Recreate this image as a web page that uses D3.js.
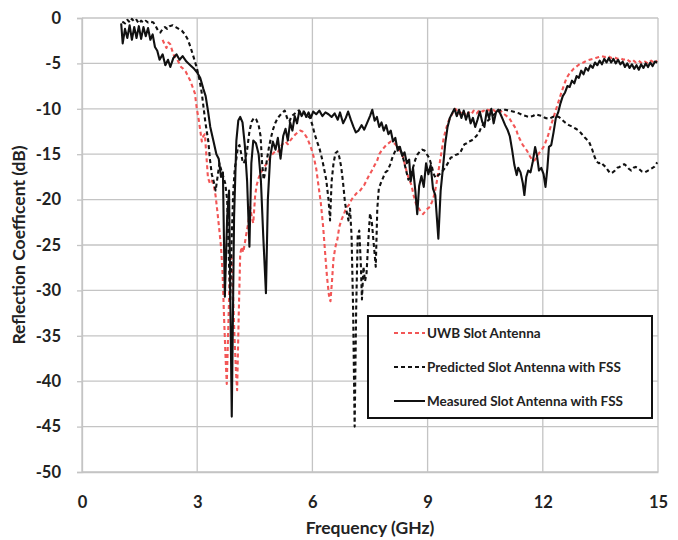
<!DOCTYPE html>
<html>
<head>
<meta charset="utf-8">
<script src="https://cdn.jsdelivr.net/npm/d3@7"></script>
<style>
  html, body { margin: 0; padding: 0; background: #fff; }
  svg text { font-family: Lato, "Open Sans", "Liberation Sans", sans-serif; font-weight: bold; fill: #222; }
</style>
</head>
<body>
<svg id="chart" width="678" height="540"></svg>
<script>
// Axis ticks
const xTicks = [0, 3, 6, 9, 12, 15];
const yTicks = [0, -5, -10, -15, -20, -25, -30, -35, -40, -45, -50];

// Series names
const seriesNames = ["UWB Slot Antenna", "Predicted Slot Antenna with FSS", "Measured Slot Antenna with FSS"];

// [frequency GHz, S11 dB]
const uwbSlot = [
  [2.10,-2.4],[2.15,-2.9],[2.20,-3.3],[2.25,-2.7],[2.30,-2.9],[2.35,-3.6],[2.40,-4.2],[2.46,-4.4],[2.52,-4.9],[2.58,-5.4],
  [2.64,-5.6],[2.70,-5.9],[2.76,-6.4],[2.82,-6.9],[2.88,-7.6],[2.94,-8.3],[2.99,-10.0],[3.04,-11.2],[3.08,-12.4],[3.12,-13.6],
  [3.16,-13.0],[3.20,-12.8],[3.24,-15.2],[3.28,-17.6],[3.33,-18.2],[3.38,-17.9],[3.43,-18.4],[3.48,-19.6],[3.53,-21.5],[3.58,-23.5],
  [3.62,-25.2],[3.66,-28],[3.70,-33],[3.74,-37.5],[3.77,-40.3],[3.81,-34],[3.85,-28],[3.89,-26],[3.93,-30],[3.97,-35],
  [4.01,-39],[4.04,-41],[4.08,-33],[4.12,-26],[4.16,-25.2],[4.20,-25.8],[4.24,-24.8],[4.29,-23.5],[4.33,-22.6],[4.38,-20.8],
  [4.42,-21.9],[4.46,-22.6],[4.51,-19.5],[4.55,-18.4],[4.60,-17.6],[4.66,-17.0],[4.72,-16.6],[4.78,-16.2],[4.85,-15.8],[4.92,-15.2],
  [4.98,-14.9],[5.05,-14.6],[5.11,-14.7],[5.17,-14.2],[5.24,-13.8],[5.30,-13.6],[5.36,-13.9],[5.42,-13.5],[5.50,-13.1],[5.56,-12.8],
  [5.62,-12.6],[5.68,-12.4],[5.74,-12.5],[5.80,-12.8],[5.86,-13.2],[5.92,-13.8],[5.98,-14.5],[6.04,-15.4],[6.10,-16.6],[6.16,-18.5],
  [6.22,-20.4],[6.28,-23],[6.33,-25.8],[6.38,-28.5],[6.43,-30.5],[6.47,-31.2],[6.51,-29],[6.55,-26.5],[6.60,-25.2],[6.65,-24.4],
  [6.70,-23.0],[6.76,-22.2],[6.82,-21.6],[6.88,-20.9],[6.95,-20.6],[7.02,-20.0],[7.09,-19.6],[7.15,-19.3],[7.21,-19.2],[7.28,-18.8],
  [7.35,-18.4],[7.42,-17.8],[7.48,-17.3],[7.55,-16.8],[7.62,-16.2],[7.68,-15.8],[7.74,-15.0],[7.80,-14.6],[7.86,-14.3],[7.92,-14.0],
  [7.98,-13.8],[8.04,-13.6],[8.10,-13.7],[8.16,-13.9],[8.22,-14.2],[8.28,-14.6],[8.34,-15.0],[8.40,-16.0],[8.46,-17.0],[8.52,-17.8],
  [8.58,-18.4],[8.64,-19.6],[8.70,-20.5],[8.76,-20.9],[8.82,-21.3],[8.88,-21.6],[8.94,-21.3],[9.00,-21.0],[9.06,-20.8],[9.12,-20.2],
  [9.18,-19.4],[9.24,-18.0],[9.30,-16.4],[9.36,-14.8],[9.42,-13.2],[9.48,-12.2],[9.54,-11.4],[9.60,-10.9],[9.66,-10.4],[9.72,-10.0],
  [9.78,-10.3],[9.84,-10.6],[9.90,-10.2],[9.96,-10.5],[10.02,-10.8],[10.08,-10.4],[10.14,-10.6],[10.20,-10.2],[10.28,-10.5],[10.36,-10.1],
  [10.44,-10.3],[10.52,-10.0],[10.60,-10.2],[10.68,-10.0],[10.76,-10.3],[10.84,-10.1],[10.92,-10.3],[11.00,-10.6],[11.06,-10.8],[11.12,-11.0],
  [11.18,-11.4],[11.24,-11.8],[11.30,-12.2],[11.36,-13.0],[11.42,-13.5],[11.48,-14.0],[11.54,-14.3],[11.60,-14.7],[11.66,-15.2],[11.72,-15.6],
  [11.78,-15.7],[11.84,-15.4],[11.90,-14.9],[11.96,-14.6],[12.02,-14.2],[12.08,-13.6],[12.14,-12.9],[12.20,-12.0],[12.26,-11.2],[12.32,-10.4],
  [12.38,-9.6],[12.44,-8.8],[12.50,-8.0],[12.56,-7.3],[12.62,-6.6],[12.68,-6.2],[12.74,-5.9],[12.80,-5.6],[12.86,-5.4],[12.92,-5.2],
  [12.98,-5.0],[13.06,-4.9],[13.14,-4.7],[13.22,-4.6],[13.30,-4.5],[13.38,-4.4],[13.46,-4.3],[13.54,-4.2],[13.62,-4.3],[13.70,-4.2],
  [13.78,-4.4],[13.86,-4.3],[13.94,-4.5],[14.02,-4.4],[14.10,-4.6],[14.18,-4.5],[14.26,-4.8],[14.34,-4.6],[14.42,-4.9],[14.50,-4.7],
  [14.58,-5.0],[14.66,-4.8],[14.74,-5.0],[14.82,-4.7],[14.90,-4.9],[14.98,-4.7]
];

const predictedFss = [
  [1.05,-0.4],[1.12,-0.6],[1.18,-0.2],[1.25,-0.5],[1.30,-0.1],[1.36,-0.4],[1.42,-0.2],[1.48,-0.6],[1.54,-0.3],[1.60,-0.5],
  [1.66,-0.3],[1.72,-0.5],[1.78,-0.4],[1.86,-0.5],[1.92,-0.9],[1.98,-1.4],[2.04,-1.6],[2.10,-1.2],[2.16,-1.0],[2.22,-1.2],
  [2.28,-0.9],[2.36,-0.8],[2.44,-1.0],[2.52,-1.2],[2.60,-1.4],[2.68,-1.8],[2.76,-2.4],[2.84,-3.4],[2.92,-4.5],[2.99,-5.5],
  [3.06,-6.8],[3.12,-8.3],[3.17,-10],[3.21,-11.4],[3.25,-12.5],[3.29,-13.6],[3.33,-15.5],[3.38,-17.2],[3.43,-18.0],[3.48,-19.0],
  [3.53,-17.5],[3.58,-16.0],[3.63,-16.8],[3.68,-17.5],[3.73,-18.2],[3.78,-20],[3.82,-26],[3.86,-31],[3.90,-24],[3.94,-19],
  [3.98,-16.5],[4.02,-15.5],[4.06,-14.2],[4.10,-14.0],[4.14,-14.8],[4.19,-16.0],[4.24,-15.8],[4.30,-14.5],[4.36,-12.5],[4.42,-11.4],
  [4.48,-11.0],[4.54,-11.2],[4.60,-11.8],[4.65,-13.0],[4.69,-16.0],[4.73,-17.8],[4.77,-17.0],[4.82,-15.5],[4.87,-14.2],[4.92,-13.2],
  [4.98,-12.2],[5.04,-11.5],[5.10,-11.0],[5.16,-10.7],[5.22,-10.4],[5.28,-10.2],[5.34,-11.0],[5.40,-11.4],[5.46,-10.8],[5.52,-10.6],
  [5.58,-10.4],[5.64,-10.2],[5.70,-10.5],[5.76,-10.3],[5.82,-10.6],[5.88,-10.8],[5.94,-11.0],[6.00,-11.8],[6.06,-12.8],[6.12,-13.6],
  [6.18,-14.3],[6.24,-15.3],[6.30,-16.5],[6.36,-17.8],[6.42,-20],[6.46,-22.3],[6.50,-18],[6.55,-16.0],[6.60,-14.9],[6.65,-14.7],
  [6.70,-15.3],[6.75,-16.4],[6.80,-18.2],[6.85,-20.4],[6.90,-21.5],[6.94,-22.3],[6.98,-21.0],[7.02,-24],[7.06,-32],[7.10,-45],
  [7.14,-32],[7.18,-24],[7.22,-23.4],[7.26,-27],[7.29,-31],[7.33,-27.4],[7.37,-29],[7.41,-28.1],[7.45,-25],[7.50,-21.5],
  [7.55,-22.6],[7.60,-25],[7.65,-27.4],[7.69,-21],[7.73,-18.8],[7.78,-18.2],[7.84,-17.6],[7.90,-17.0],[7.96,-16.8],[8.02,-16.2],
  [8.08,-15.4],[8.14,-14.8],[8.20,-14.3],[8.26,-14.2],[8.32,-14.8],[8.38,-15.7],[8.44,-16.8],[8.50,-17.8],[8.56,-17.5],[8.62,-16.5],
  [8.68,-15.6],[8.74,-15.0],[8.80,-14.7],[8.86,-14.5],[8.92,-14.6],[8.98,-15.0],[9.04,-15.4],[9.10,-16.2],[9.16,-17.2],[9.21,-17.6],
  [9.28,-17.3],[9.34,-17.1],[9.40,-16.8],[9.47,-16.4],[9.54,-15.9],[9.60,-15.4],[9.66,-15.3],[9.72,-15.1],[9.78,-15.0],[9.84,-14.9],
  [9.90,-14.4],[9.96,-13.9],[10.02,-13.8],[10.08,-13.6],[10.14,-13.5],[10.20,-13.3],[10.27,-13.0],[10.34,-12.6],[10.40,-12.0],[10.47,-11.6],
  [10.54,-11.4],[10.60,-11.2],[10.68,-10.8],[10.77,-10.5],[10.86,-10.2],[10.94,-10.1],[11.02,-10.1],[11.12,-10.2],[11.22,-10.3],[11.30,-10.4],
  [11.38,-10.5],[11.48,-10.7],[11.56,-10.8],[11.64,-10.9],[11.74,-10.8],[11.82,-10.6],[11.90,-10.7],[11.98,-10.8],[12.06,-11.0],[12.16,-11.1],
  [12.26,-10.9],[12.34,-10.8],[12.42,-10.9],[12.50,-11.2],[12.58,-11.5],[12.68,-11.8],[12.78,-12.0],[12.86,-12.2],[12.94,-12.4],[13.02,-12.8],
  [13.10,-13.2],[13.20,-13.6],[13.28,-14.4],[13.34,-15.2],[13.40,-15.8],[13.46,-16.0],[13.52,-15.9],[13.58,-16.2],[13.64,-16.4],[13.70,-16.8],
  [13.76,-17.1],[13.82,-17.0],[13.88,-16.8],[13.94,-16.5],[14.00,-16.4],[14.06,-16.2],[14.12,-16.1],[14.18,-16.3],[14.24,-16.6],[14.30,-16.8],
  [14.36,-16.5],[14.42,-16.4],[14.50,-16.6],[14.58,-16.9],[14.66,-17.0],[14.74,-16.8],[14.82,-16.6],[14.90,-16.4],[14.98,-15.9]
];

const measuredFss = [
  [1.02,-0.6],[1.06,-2.8],[1.12,-1.2],[1.18,-2.2],[1.24,-0.8],[1.30,-2.4],[1.36,-1.0],[1.42,-2.2],[1.48,-0.9],[1.54,-2.3],
  [1.60,-1.0],[1.66,-2.0],[1.72,-1.1],[1.78,-2.4],[1.84,-1.8],[1.90,-3.2],[1.96,-3.6],[2.02,-4.6],[2.10,-4.0],[2.17,-5.2],
  [2.24,-4.6],[2.30,-5.4],[2.38,-4.4],[2.46,-4.0],[2.54,-4.6],[2.62,-4.2],[2.72,-4.8],[2.82,-5.2],[2.92,-5.6],[3.00,-6.0],
  [3.08,-6.6],[3.16,-7.8],[3.22,-8.6],[3.28,-10.2],[3.34,-12.0],[3.42,-13.5],[3.50,-15.0],[3.56,-15.5],[3.62,-17.5],[3.67,-17.0],
  [3.72,-30.7],[3.78,-22],[3.83,-19],[3.90,-43.9],[3.96,-22],[4.02,-13.5],[4.07,-11.3],[4.12,-10.9],[4.18,-11.5],[4.24,-14],
  [4.30,-18],[4.36,-25.2],[4.41,-16],[4.46,-13.5],[4.53,-13.8],[4.60,-15],[4.66,-18],[4.72,-24],[4.79,-30.3],[4.84,-20],
  [4.90,-15.3],[4.97,-13.6],[5.04,-14.5],[5.10,-13.2],[5.17,-15.5],[5.24,-13.0],[5.30,-12.2],[5.36,-13.5],[5.42,-11.5],[5.48,-12.4],
  [5.54,-10.8],[5.60,-11.6],[5.66,-10.2],[5.72,-10.8],[5.78,-10.3],[5.84,-10.9],[5.90,-10.4],[5.96,-11.0],[6.02,-10.3],[6.10,-10.6],
  [6.18,-10.2],[6.26,-10.8],[6.34,-10.4],[6.42,-10.6],[6.50,-10.9],[6.58,-10.5],[6.66,-11.2],[6.72,-10.4],[6.80,-11.6],[6.87,-11.0],
  [6.93,-10.3],[7.00,-11.2],[7.07,-12.0],[7.13,-12.6],[7.20,-12.4],[7.28,-11.8],[7.35,-12.3],[7.42,-11.6],[7.50,-10.8],[7.56,-10.1],
  [7.62,-11.3],[7.68,-10.9],[7.74,-12.0],[7.80,-11.5],[7.86,-12.4],[7.92,-11.8],[7.98,-12.8],[8.04,-12.4],[8.10,-13.6],[8.16,-13.2],
  [8.22,-14.6],[8.28,-14.2],[8.34,-15.2],[8.40,-14.8],[8.46,-16.0],[8.52,-15.6],[8.56,-18.0],[8.62,-16.5],[8.68,-19],[8.73,-21.6],
  [8.78,-18.5],[8.84,-17.4],[8.90,-18.6],[8.96,-16.0],[9.02,-17.2],[9.08,-16.2],[9.14,-18.8],[9.20,-19.5],[9.28,-24.3],[9.34,-19],
  [9.40,-16.5],[9.46,-13.8],[9.52,-12.0],[9.58,-11.0],[9.64,-10.5],[9.70,-10.0],[9.76,-10.8],[9.82,-10.1],[9.88,-11.0],[9.94,-10.2],
  [10.00,-11.2],[10.06,-10.4],[10.12,-11.6],[10.18,-11.0],[10.24,-12.0],[10.30,-11.2],[10.36,-10.3],[10.42,-11.4],[10.48,-12.0],[10.54,-10.2],
  [10.60,-11.0],[10.66,-10.0],[10.72,-11.6],[10.78,-10.4],[10.84,-10.1],[10.90,-10.6],[10.96,-11.2],[11.02,-11.8],[11.08,-12.3],[11.14,-13.0],
  [11.20,-14.5],[11.26,-16.2],[11.32,-17.3],[11.36,-16.5],[11.42,-17.0],[11.48,-18.2],[11.52,-19.5],[11.57,-17.5],[11.62,-16.8],[11.68,-17.0],
  [11.74,-15.8],[11.80,-14.2],[11.85,-15.2],[11.90,-16.8],[11.96,-16.5],[12.02,-17.2],[12.07,-18.6],[12.12,-16.5],[12.16,-14.2],[12.22,-14.0],
  [12.28,-12.6],[12.34,-11.0],[12.40,-10.4],[12.46,-9.4],[12.52,-8.6],[12.58,-8.2],[12.64,-7.5],[12.70,-7.6],[12.76,-6.9],[12.82,-7.2],
  [12.88,-6.4],[12.94,-6.6],[13.00,-5.8],[13.06,-6.2],[13.12,-5.5],[13.18,-5.8],[13.24,-5.2],[13.30,-5.5],[13.36,-4.9],[13.42,-5.2],
  [13.48,-4.7],[13.54,-5.1],[13.60,-4.5],[13.66,-4.9],[13.72,-4.4],[13.78,-4.9],[13.84,-4.5],[13.90,-5.0],[13.96,-4.6],[14.02,-5.1],
  [14.08,-4.8],[14.14,-5.4],[14.20,-5.0],[14.26,-5.5],[14.32,-5.1],[14.38,-5.6],[14.44,-5.2],[14.50,-5.7],[14.56,-5.1],[14.62,-5.5],
  [14.68,-5.0],[14.74,-5.4],[14.80,-4.9],[14.86,-5.3],[14.92,-4.8],[14.98,-4.9]
];

const svg = d3.select("#chart");
const margin = { left: 82, right: 20, top: 18, bottom: 68 };
const W = 678, H = 540;

const x = d3.scaleLinear().domain([0, 15]).range([margin.left, W - margin.right]);
const y = d3.scaleLinear().domain([-50, 0]).range([H - margin.bottom, margin.top]);

// plain hyphen for negative tick labels
const fmt = d => String(d);

// grid
const grid = svg.append("g");
grid.selectAll("line.h").data(yTicks).join("line")
  .attr("x1", x(0)).attr("x2", x(15))
  .attr("y1", d => y(d)).attr("y2", d => y(d))
  .attr("stroke", "#c4c4c4").attr("stroke-width", 1.3);
grid.selectAll("line.v").data(xTicks).join("line")
  .attr("y1", y(0)).attr("y2", y(-50))
  .attr("x1", d => x(d)).attr("x2", d => x(d))
  .attr("stroke", "#c4c4c4").attr("stroke-width", 1.3);

// y axis
const yAxis = svg.append("g")
  .attr("transform", `translate(${x(0)},0)`)
  .call(d3.axisLeft(y).tickValues(yTicks).tickSize(5).tickPadding(16).tickFormat(fmt));
yAxis.select(".domain").attr("stroke", "#c4c4c4").attr("stroke-width", 1.3);
yAxis.selectAll(".tick line").attr("stroke", "#c4c4c4").attr("stroke-width", 1.3);
yAxis.selectAll("text").attr("font-size", 16.5).attr("fill", "#222")
  .style("font-family", "Lato, 'Open Sans', sans-serif").style("font-weight", "bold");

// x axis
const xAxis = svg.append("g")
  .attr("transform", `translate(0,${y(-50)})`)
  .call(d3.axisBottom(x).tickValues(xTicks).tickSize(0).tickPadding(24).tickFormat(fmt));
xAxis.select(".domain").attr("stroke", "#c4c4c4").attr("stroke-width", 1.3);
xAxis.selectAll("text").attr("font-size", 16.5).attr("fill", "#222")
  .style("font-family", "Lato, 'Open Sans', sans-serif").style("font-weight", "bold");

// titles
svg.append("text")
  .attr("x", (x(0) + x(15)) / 2).attr("y", 534)
  .attr("text-anchor", "middle").attr("font-size", 17.5)
  .text("Frequency (GHz)");
svg.append("text")
  .attr("transform", `translate(25,${(y(0) + y(-50)) / 2}) rotate(-90)`)
  .attr("text-anchor", "middle").attr("font-size", 17.5)
  .text("Reflection Coefficent (dB)");

// curves
const line = d3.line().x(d => x(d[0])).y(d => y(d[1]));
const styles = [
  { data: uwbSlot, color: "#f25656", dash: "4,3" },
  { data: predictedFss, color: "#111", dash: "4,3" },
  { data: measuredFss, color: "#111", dash: null }
];
styles.forEach(s => {
  svg.append("path").datum(s.data)
    .attr("d", line)
    .attr("fill", "none")
    .attr("stroke", s.color)
    .attr("stroke-width", 2.1)
    .attr("stroke-linejoin", "round")
    .attr("stroke-dasharray", s.dash);
});

// legend
const lg = svg.append("g").attr("transform", "translate(368,316)");
lg.append("rect").attr("width", 284).attr("height", 102)
  .attr("fill", "#fff").attr("stroke", "#111").attr("stroke-width", 2);
seriesNames.forEach((name, i) => {
  const cy = 17 + i * 34;
  lg.append("line")
    .attr("x1", 26).attr("x2", 57).attr("y1", cy).attr("y2", cy)
    .attr("stroke", styles[i].color).attr("stroke-width", 2)
    .attr("stroke-dasharray", styles[i].dash);
  lg.append("text")
    .attr("x", 59).attr("y", cy + 4.5)
    .attr("font-size", 13.5)
    .text(name);
});
</script>
</body>
</html>
